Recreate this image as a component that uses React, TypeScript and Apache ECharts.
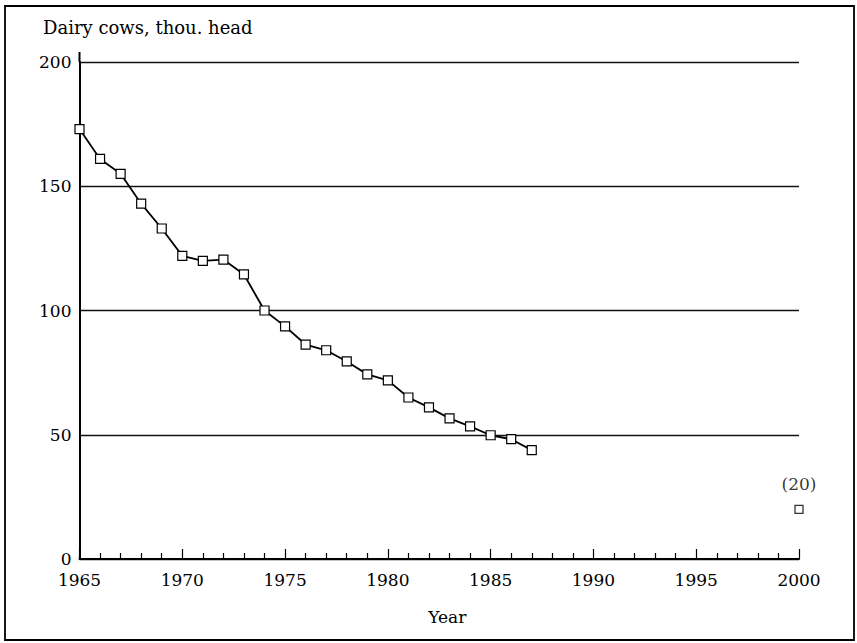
import React, { useEffect, useRef } from "react";
import * as echarts from "echarts";

const years: number[] = [1965, 1966, 1967, 1968, 1969, 1970, 1971, 1972, 1973, 1974, 1975, 1976, 1977, 1978, 1979, 1980, 1981, 1982, 1983, 1984, 1985, 1986, 1987];
const cows: number[] = [173, 161, 155, 143, 133, 122, 120, 120.5, 114.5, 100, 93.6, 86.3, 84, 79.5, 74.3, 71.9, 65, 61, 56.6, 53.4, 49.8, 48.2, 43.8];
const forecastYear: number[] = [2000];
const forecastValue: number[] = [20];
const yTicks: number[] = [0, 50, 100, 150, 200];
const xTicks: number[] = [1965, 1970, 1975, 1980, 1985, 1990, 1995, 2000];

const FONT = "DejaVu Serif";

export default function App() {
  const ref = useRef<HTMLDivElement>(null);
  useEffect(() => {
    if (!ref.current) return;
    const chart = echarts.init(ref.current, null, { renderer: "svg" });
    chart.setOption({
      animation: false,
      backgroundColor: "#ffffff",
      title: {
        text: "Dairy cows, thou. head",
        left: 38,
        top: 13,
        textStyle: { fontFamily: FONT, fontSize: 18, fontWeight: "normal", color: "#000" },
      },
      grid: { left: 79.5, right: 58, top: 62, bottom: 84 },
      xAxis: {
        type: "value",
        min: xTicks[0],
        max: xTicks[xTicks.length - 1],
        interval: 5,
        name: "Year",
        nameLocation: "middle",
        nameGap: 49,
        nameTextStyle: { fontFamily: FONT, fontSize: 17, color: "#000", padding: [0, 0, 0, 16] },
        axisLine: { show: true, lineStyle: { color: "#000", width: 2 } },
        axisTick: { show: true, inside: true, length: 10, lineStyle: { color: "#000", width: 1.2 } },
        minorTick: { show: true, splitNumber: 5, length: 6, lineStyle: { color: "#000", width: 1.2 } },
        splitLine: { show: false },
        axisLabel: {
          fontFamily: FONT,
          fontSize: 17,
          color: "#000",
          margin: 12,
          formatter: (v: number) => String(v),
        },
      },
      yAxis: {
        type: "value",
        min: yTicks[0],
        max: yTicks[yTicks.length - 1],
        interval: 50,
        axisLine: { show: true, lineStyle: { color: "#000", width: 2 } },
        axisTick: { show: false },
        splitLine: { show: true, lineStyle: { color: "#111", width: 1.3 } },
        axisLabel: { fontFamily: FONT, fontSize: 17, color: "#000", margin: 8 },
      },
      series: [
        {
          type: "line",
          data: years.map((y, i) => [y, cows[i]]),
          symbol: "rect",
          symbolSize: 9,
          showAllSymbol: true,
          lineStyle: { color: "#000", width: 1.8 },
          itemStyle: { color: "#fff", borderColor: "#000", borderWidth: 1.2 },
          z: 3,
        },
        {
          type: "scatter",
          data: forecastYear.map((y, i) => [y, forecastValue[i]]),
          symbol: "rect",
          symbolSize: 8,
          itemStyle: { color: "#fff", borderColor: "#000", borderWidth: 1.3 },
          label: {
            show: true,
            position: "top",
            distance: 12,
            formatter: (p: any) => "(" + p.value[1] + ")",
            fontFamily: FONT,
            fontSize: 17,
            color: "#000",
            textBorderWidth: 0,
          },
          z: 3,
        },
      ],
    });
    const top = chart.convertToPixel({ gridIndex: 0 }, [xTicks[0], yTicks[yTicks.length - 1]]) as number[];
    chart.setOption({
      graphic: [
        {
          type: "line",
          shape: { x1: top[0], y1: top[1] - 10, x2: top[0], y2: top[1] },
          style: { stroke: "#000", lineWidth: 2 },
        },
        {
          type: "rect",
          shape: { x: 5, y: 6, width: 849, height: 634 },
          style: { fill: "none", stroke: "#000", lineWidth: 1.8 },
        },
      ],
    });
    return () => chart.dispose();
  }, []);
  return <div ref={ref} style={{ position: "absolute", left: 0, top: 0, width: 857, height: 643 }} />;
}
